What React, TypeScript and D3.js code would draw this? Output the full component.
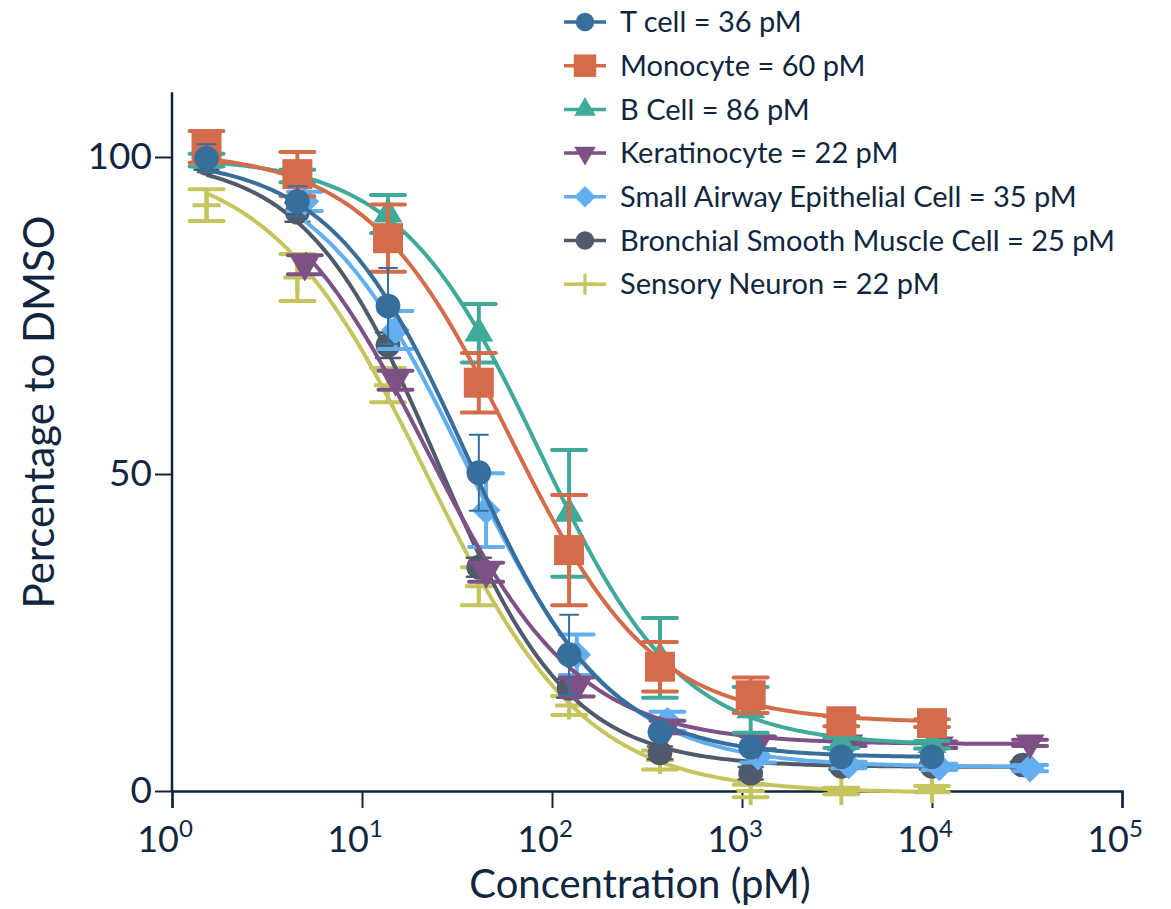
import React, { useEffect, useRef } from 'react';
import * as d3 from 'd3';

// Series values (concentration in pM, % of DMSO, error)
const seriesNames = [
  'T cell = 36 pM',
  'Monocyte = 60 pM',
  'B Cell = 86 pM',
  'Keratinocyte = 22 pM',
  'Small Airway Epithelial Cell = 35 pM',
  'Bronchial Smooth Muscle Cell = 25 pM',
  'Sensory Neuron = 22 pM',
];
const seriesColors = ['#376e9c', '#d46c4b', '#3fa99a', '#7e5186', '#62aeee', '#4f5a6a', '#c6c45c'];
const seriesShapes = ['circle', 'square', 'triangleUp', 'triangleDown', 'diamond', 'circle', 'plus'];

const tCellConc = [1.52, 4.57, 13.7, 41.2, 123, 370, 1111, 3333, 10000];
const tCellPct = [99.8, 93, 76.5, 50.2, 21.5, 9.3, 6.9, 5.4, 5.4];
const tCellErr = [2.2, 2.4, 6, 6, 6.3, 1, 1, 0.5, 0.5];

const monoConc = [1.52, 4.57, 13.7, 41.2, 123, 370, 1111, 3333, 10000];
const monoPct = [101.6, 97.3, 87.2, 64.4, 38, 19.6, 15.1, 11, 10.7];
const monoErr = [2.5, 3.5, 5.3, 4.7, 8.7, 3.9, 2.8, 0.8, 0.6];

const bCellConc = [1.52, 4.57, 13.7, 41.2, 123, 370, 1111, 3333, 10000];
const bCellPct = [99.5, 97, 91, 72.2, 43.8, 21, 12.8, 7.6, 7.3];
const bCellErr = [1, 1, 3, 4.6, 10, 6.3, 3.6, 0.8, 0.6];

const keraConc = [5, 15, 45, 135, 405, 1215, 3645, 10935, 32805];
const keraPct = [83, 64.8, 34.5, 16.4, 10.1, 7.6, 7.6, 7.3, 7.6];
const keraErr = [1.5, 1.5, 1.5, 1.5, 1, 1, 0.5, 0.5, 0.5];

const saecConc = [5, 15, 45, 135, 405, 1215, 3645, 10935, 32805];
const saecPct = [93, 72.7, 44.3, 21.5, 11, 5.5, 4.1, 3.8, 3.6];
const saecErr = [1.5, 3, 5.8, 3.2, 1.5, 1, 0.5, 0.5, 0.5];

const bsmcConc = [1.52, 4.57, 13.7, 41.2, 123, 370, 1111, 3333, 10000, 30000];
const bsmcPct = [99, 91.3, 70.3, 35.3, 16.2, 6, 2.8, 3.9, 3.9, 4.1];
const bsmcErr = [1, 1.5, 2, 1.5, 1.5, 1, 1, 0.5, 0.5, 0.5];

const neuronConc = [1.52, 4.57, 13.7, 41.2, 123, 370, 1111, 3333, 10000];
const neuronPct = [92.4, 81, 64, 32.3, 13.5, 4.9, 0, 0, 0.3];
const neuronErr = [2.5, 3.7, 2.7, 3, 1.5, 1.5, 1, 0.5, 0.5];

// 4PL fit parameters (IC50 from legend)
const fitTop = [100, 101, 100, 100, 100, 100, 100];
const fitBottom = [5.3, 10.8, 7.2, 7.4, 3.8, 3.8, -0.3];
const fitHill = [1.2, 1.15, 1.17, 1.1, 1.1, 1.25, 1.05];
const fitIC50 = [36, 60, 86, 22, 35, 25, 22];

const xTicks = [1, 10, 100, 1000, 10000, 100000];
const yTicks = [0, 50, 100];

const ink = '#10263f';
const font = 'Lato, "Open Sans", sans-serif';

const App = () => {
  const ref = useRef<SVGSVGElement | null>(null);

  useEffect(() => {
    const svg = d3.select(ref.current);
    svg.selectAll('*').remove();

    const x = d3.scaleLog().domain([1, 100000]).range([172, 1122]);
    const y = d3.scaleLinear().domain([0, 100]).range([791, 157]);

    const data = [
      { conc: tCellConc, pct: tCellPct, err: tCellErr, cap: 18, ew: 2 },
      { conc: monoConc, pct: monoPct, err: monoErr, cap: 34, ew: 4 },
      { conc: bCellConc, pct: bCellPct, err: bCellErr, cap: 34, ew: 4 },
      { conc: keraConc, pct: keraPct, err: keraErr, cap: 34, ew: 4 },
      { conc: saecConc, pct: saecPct, err: saecErr, cap: 34, ew: 4 },
      { conc: bsmcConc, pct: bsmcPct, err: bsmcErr, cap: 24, ew: 2.5 },
      { conc: neuronConc, pct: neuronPct, err: neuronErr, cap: 34, ew: 4 },
    ];

    // axes
    const xAxis = svg
      .append('g')
      .attr('transform', `translate(0,${y(0)})`)
      .call(d3.axisBottom(x).tickValues(xTicks).tickSize(17).tickFormat(() => ''));
    xAxis.select('.domain').attr('stroke', ink).attr('stroke-width', 2.5);
    xAxis.selectAll('.tick line').attr('stroke', ink).attr('stroke-width', 2);

    xTicks.forEach((t, i) => {
      const txt = svg
        .append('text')
        .attr('x', x(t) - 7)
        .attr('y', 852)
        .attr('text-anchor', 'middle')
        .style('font-family', font)
        .style('font-size', '36px')
        .attr('fill', ink)
        .text('10');
      txt.append('tspan').attr('dy', -15).style('font-size', '24px').text(String(i));
    });

    const yAxis = svg
      .append('g')
      .attr('transform', `translate(${x(1)},0)`)
      .call(d3.axisLeft(y).tickValues(yTicks).tickSize(17).tickPadding(3));
    yAxis.select('.domain').remove();
    yAxis.selectAll('.tick line').attr('stroke', ink).attr('stroke-width', 2);
    yAxis
      .selectAll('.tick text')
      .attr('fill', ink)
      .style('font-family', font)
      .style('font-size', '37px');
    svg
      .append('line')
      .attr('x1', x(1))
      .attr('x2', x(1))
      .attr('y1', y(0) + 1)
      .attr('y2', y(110.2))
      .attr('stroke', ink)
      .attr('stroke-width', 2.5);

    svg
      .append('text')
      .attr('x', 640)
      .attr('y', 898)
      .attr('text-anchor', 'middle')
      .attr('fill', ink)
      .style('font-family', font)
      .style('font-size', '40px')
      .text('Concentration (pM)');

    svg
      .append('text')
      .attr('transform', 'translate(54,412) rotate(-90)')
      .attr('text-anchor', 'middle')
      .attr('fill', ink)
      .style('font-family', font)
      .style('font-size', '42px')
      .text('Percentage to DMSO');

    const drawMarker = (g: any, shape: string, color: string, cx: number, cy: number, scale: number) => {
      if (shape === 'plus') {
        const h = 14 * scale;
        g.append('path')
          .attr('d', `M${cx - h},${cy}H${cx + h}M${cx},${cy - h}V${cy + h}`)
          .attr('stroke', color)
          .attr('stroke-width', 4 * Math.max(scale, 0.8))
          .attr('fill', 'none');
        return;
      }
      let sym: any = d3.symbolCircle;
      let size = 480;
      let rot = 0;
      if (shape === 'square') { sym = d3.symbolSquare; size = 900; }
      if (shape === 'triangleUp') { sym = d3.symbolTriangle; size = 360; }
      if (shape === 'triangleDown') { sym = d3.symbolTriangle; size = 360; rot = 180; }
      if (shape === 'diamond') { sym = d3.symbolSquare; size = 410; rot = 45; }
      g.append('path')
        .attr('d', d3.symbol().type(sym).size(size * scale * scale)())
        .attr('transform', `translate(${cx},${cy}) rotate(${rot})`)
        .attr('fill', color);
    };

    // draw series back to front
    for (let s = data.length - 1; s >= 0; s--) {
      const d = data[s];
      const color = seriesColors[s];
      const g = svg.append('g');

      const lo = Math.log10(d.conc[0]);
      const hi = Math.log10(d.conc[d.conc.length - 1]);
      const samples = d3.range(0, 201).map(i => Math.pow(10, lo + ((hi - lo) * i) / 200));
      const fit = (c: number) =>
        fitBottom[s] + (fitTop[s] - fitBottom[s]) / (1 + Math.pow(c / fitIC50[s], fitHill[s]));
      const line = d3
        .line<number>()
        .x(c => x(c))
        .y(c => y(fit(c)));
      g.append('path')
        .attr('d', line(samples))
        .attr('fill', 'none')
        .attr('stroke', color)
        .attr('stroke-width', 4);

      d.conc.forEach((c, i) => {
        const cx = x(c);
        const top = y(d.pct[i] + d.err[i]);
        const bot = y(d.pct[i] - d.err[i]);
        g.append('path')
          .attr('d', `M${cx},${top}V${bot}M${cx - d.cap / 2},${top}H${cx + d.cap / 2}M${cx - d.cap / 2},${bot}H${cx + d.cap / 2}`)
          .attr('stroke', color)
          .attr('stroke-width', d.ew)
          .attr('stroke-linecap', 'round')
          .attr('fill', 'none');
        drawMarker(g, seriesShapes[s], color, cx, y(d.pct[i]), 1);
      });
    }

    // legend
    const legend = svg.append('g');
    seriesNames.forEach((name, i) => {
      const ly = 22 + i * 43.7;
      const color = seriesColors[i];
      legend
        .append('line')
        .attr('x1', 564)
        .attr('x2', 606)
        .attr('y1', ly)
        .attr('y2', ly)
        .attr('stroke', color)
        .attr('stroke-width', 3.5);
      drawMarker(legend, seriesShapes[i], color, 585, ly, 0.75);
      legend
        .append('text')
        .attr('x', 620)
        .attr('y', ly)
        .attr('dy', '0.35em')
        .attr('fill', ink)
        .style('font-family', font)
        .style('font-size', '29px')
        .text(name);
    });
  }, []);

  return (
    <svg
      ref={ref}
      width={1171}
      height={909}
      style={{ position: 'absolute', left: 0, top: 0, background: '#fff' }}
    />
  );
};

export default App;
